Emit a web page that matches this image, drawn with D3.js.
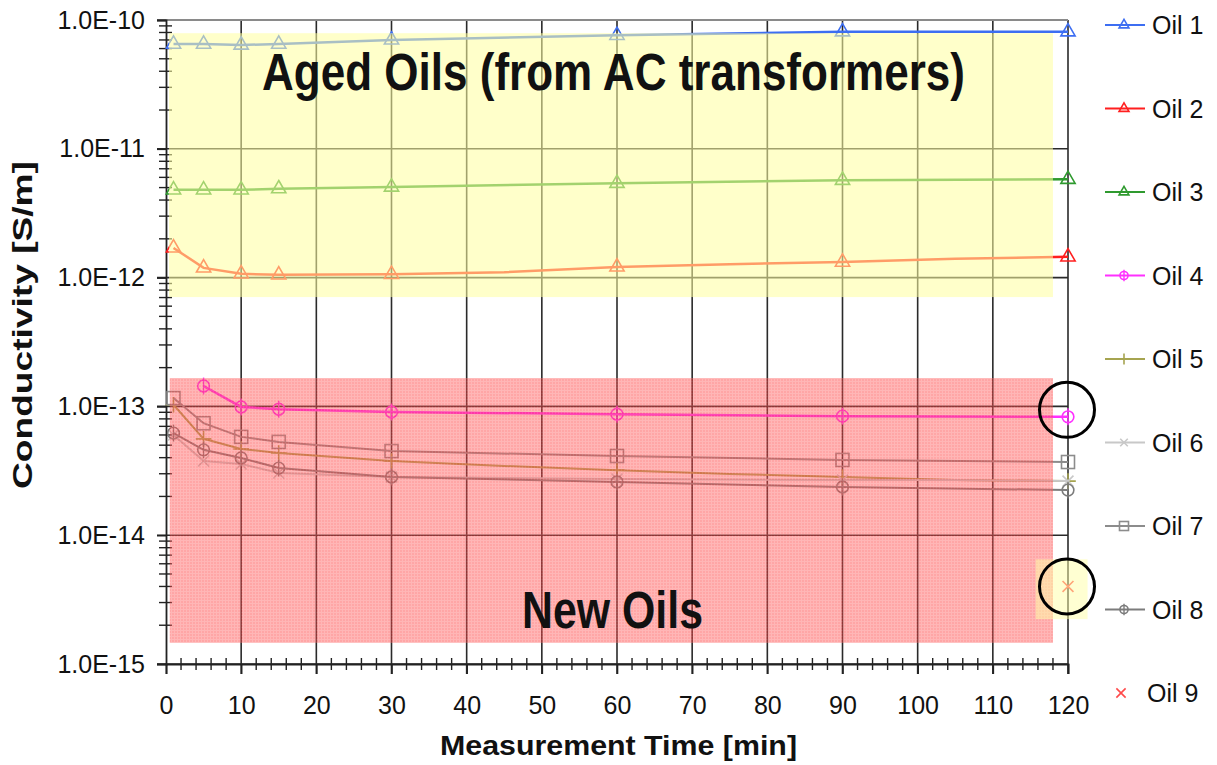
<!DOCTYPE html>
<html><head><meta charset="utf-8">
<script src="https://cdn.jsdelivr.net/npm/d3@7"></script>
<style>
body{margin:0;background:#fff}
svg{display:block}
text{font-family:"Liberation Sans",Arial,Helvetica,sans-serif;fill:#111}
</style>
</head><body>
<svg id="c" width="1217" height="765"></svg>
<script>
// ---------- data ----------
const seriesNames = ["Oil 1","Oil 2","Oil 3","Oil 4","Oil 5","Oil 6","Oil 7","Oil 8","Oil 9"];
const markerTimes = [1,5,10,15,30,60,90,120];

const oil1Times = [1,5,10,15,30,60,90,120];
const oil1Values = [6.5e-11,6.5e-11,6.4e-11,6.5e-11,7.0e-11,7.6e-11,8.1e-11,8.1e-11];

const oil2Times = [1,5,10,15,30,45,60,75,90,105,120];
const oil2Values = [1.70e-12,1.19e-12,1.07e-12,1.05e-12,1.06e-12,1.10e-12,1.21e-12,1.27e-12,1.32e-12,1.40e-12,1.45e-12];

const oil3Times = [1,5,10,15,30,60,90,120];
const oil3Values = [4.8e-12,4.8e-12,4.8e-12,4.9e-12,5.05e-12,5.4e-12,5.7e-12,5.8e-12];

const oil4Times = [5,10,15,30,60,90,120];
const oil4Values = [1.44e-13,9.9e-14,9.5e-14,9.05e-14,8.7e-14,8.4e-14,8.3e-14];

const oil5Times = [1,5,10,15,30,45,60,75,90,105,120];
const oil5Values = [1.03e-13,5.6e-14,4.67e-14,4.35e-14,3.77e-14,3.45e-14,3.2e-14,2.99e-14,2.83e-14,2.68e-14,2.63e-14];

const oil6Times = [1,5,10,15,30,60,90,105,120];
const oil6Values = [6.0e-14,3.77e-14,3.57e-14,3.04e-14,2.83e-14,2.73e-14,2.68e-14,2.68e-14,2.63e-14];

const oil7Times = [1,5,10,15,30,60,90,120];
const oil7Values = [1.16e-13,7.4e-14,5.8e-14,5.3e-14,4.5e-14,4.12e-14,3.84e-14,3.7e-14];

const oil8Times = [1,5,10,15,30,60,90,120];
const oil8Values = [6.2e-14,4.6e-14,3.98e-14,3.32e-14,2.83e-14,2.59e-14,2.37e-14,2.24e-14];

const oil9Times = [120];
const oil9Values = [4.0e-15];

const xTicks = [0,10,20,30,40,50,60,70,80,90,100,110,120];
const yTicks = [1e-15,1e-14,1e-13,1e-12,1e-11,1e-10];
const yTickLabels = ["1.0E-15","1.0E-14","1.0E-13","1.0E-12","1.0E-11","1.0E-10"];

const annotationAged = "Aged Oils (from AC transformers)";
const annotationNew = "New Oils";
const xTitle = "Measurement Time [min]";
const yTitle = "Conductivity [S/m]";

// ---------- styles ----------
const colors = ["#3d6ef2","#ff1f1f","#2f9a2f","#ff30ff","#a6a450","#c8c8c8","#8c8c8c","#7c7c7c","#ff4a4a"];
const shapes = ["tri","tri","tri","circ","plus","cross","square","circ","cross"];
const widths = [2.5,2.5,2.5,2.5,2,2,2,2,0];

const series = [
  [oil1Times,oil1Values],[oil2Times,oil2Values],[oil3Times,oil3Values],
  [oil4Times,oil4Values],[oil5Times,oil5Values],[oil6Times,oil6Values],
  [oil7Times,oil7Values],[oil8Times,oil8Values],[oil9Times,oil9Values]
].map((s,i)=>({name:seriesNames[i],pts:s[0].map((t,j)=>({t, v:s[1][j]})),color:colors[i],shape:shapes[i],width:widths[i]}));

const svg = d3.select("#c");
const x = d3.scaleLinear().domain([0,120]).range([166,1068]);
const y = d3.scaleLog().domain([1e-15,1e-10]).range([664,20]);

// pattern for the fine texture of the pink region
const defs = svg.append("defs");
const pat = defs.append("pattern").attr("id","tex").attr("width",3).attr("height",3).attr("patternUnits","userSpaceOnUse");
pat.append("rect").attr("width",3).attr("height",3).attr("fill","rgb(255,66,66)");
pat.append("path").attr("d","M0,0.5H3M0.5,0V3").attr("stroke","rgb(255,100,100)").attr("stroke-width",1);

// ---------- grid ----------
const grid = svg.append("g");
grid.selectAll("line.v").data(xTicks.slice(1)).enter().append("line")
  .attr("x1",d=>x(d)).attr("x2",d=>x(d)).attr("y1",y(1e-10)).attr("y2",y(1e-15)+10)
  .attr("stroke","#2a2a2a").attr("stroke-width",1.6);
grid.selectAll("line.h").data(yTicks).enter().append("line")
  .attr("x1",x(0)-9).attr("x2",x(120)).attr("y1",d=>y(d)).attr("y2",d=>y(d))
  .attr("stroke",d=>d===1e-10?"#8a8a8a":"#2a2a2a").attr("stroke-width",d=>d===1e-10?2:1.6);

// minor ticks y
const minorY = [];
for(let e=-15;e<-10;e++) for(let m=2;m<=9;m++) minorY.push(m*Math.pow(10,e));
grid.selectAll("line.my").data(minorY).enter().append("line")
  .attr("x1",x(0)-7).attr("x2",x(0)+6).attr("y1",d=>y(d)).attr("y2",d=>y(d))
  .attr("stroke","#222").attr("stroke-width",1.4);
// minor ticks x
const minorX = d3.range(2,120,2).filter(d=>d%10!==0);
grid.selectAll("line.mx").data(minorX).enter().append("line")
  .attr("x1",d=>x(d)).attr("x2",d=>x(d)).attr("y1",y(1e-15)-6).attr("y2",y(1e-15)+6)
  .attr("stroke","#222").attr("stroke-width",1.4);

// axes with d3 (labels)
const yAxis = d3.axisLeft(y).tickValues(yTicks).tickFormat((d,i)=>yTickLabels[i]).tickSize(9).tickPadding(12);
const gy = svg.append("g").attr("transform",`translate(${x(0)},0)`).call(yAxis);
gy.select(".domain").attr("stroke","#222").attr("stroke-width",1.8);
gy.selectAll(".tick line").attr("stroke","#222").attr("stroke-width",1.6);
gy.selectAll("text").style("font-size","25px").attr("fill","#111");

const xAxis = d3.axisBottom(x).tickValues(xTicks).tickSize(10).tickPadding(22);
const gx = svg.append("g").attr("transform",`translate(0,${y(1e-15)})`).call(xAxis);
gx.select(".domain").attr("stroke","#222").attr("stroke-width",1.8);
gx.selectAll(".tick line").attr("stroke","#222").attr("stroke-width",1.6);
gx.selectAll("text").style("font-size","25px").attr("fill","#111");

// ---------- series ----------
function marker(sel, shape, color, s){
  const g = sel;
  if(shape==="tri"){
    g.append("path").attr("d",d3.symbol(d3.symbolTriangle, 0.52*s*s)()).attr("fill","none").attr("stroke",color).attr("stroke-width",1.6);
  } else if(shape==="circ"){
    g.append("circle").attr("r",s*0.45).attr("fill","none").attr("stroke",color).attr("stroke-width",1.6);
    g.append("line").attr("y1",-s*0.65).attr("y2",s*0.65).attr("stroke",color).attr("stroke-width",1.4);
  } else if(shape==="square"){
    g.append("rect").attr("x",-s/2).attr("y",-s/2).attr("width",s).attr("height",s).attr("fill","none").attr("stroke",color).attr("stroke-width",1.6);
  } else if(shape==="plus"){
    g.append("path").attr("d",`M${-s*0.6},0H${s*0.6}M0,${-s*0.6}V${s*0.6}`).attr("stroke",color).attr("stroke-width",1.6);
  } else if(shape==="cross"){
    g.append("path").attr("d",`M${-s*0.42},${-s*0.42}L${s*0.42},${s*0.42}M${-s*0.42},${s*0.42}L${s*0.42},${-s*0.42}`).attr("stroke",color).attr("stroke-width",1.6);
  }
}
const line = d3.line().x(d=>x(d.t)).y(d=>y(d.v));
const plot = svg.append("g");
series.forEach(s=>{
  if(s.pts.length>1){
    plot.append("path").datum(s.pts).attr("d",line).attr("fill","none")
      .attr("stroke",s.color).attr("stroke-width",s.width);
  }
  s.pts.filter(p=>markerTimes.includes(p.t)).forEach(p=>{
    const g = plot.append("g").attr("transform",`translate(${x(p.t)},${y(p.v)})`);
    marker(g, s.shape, s.color, 13);
  });
});

// ---------- highlight regions (semi-transparent overlays) ----------
const ov = svg.append("g");
ov.append("rect").attr("x",x(0.4)).attr("width",x(118)-x(0.4))
  .attr("y",y(7.9e-11)).attr("height",y(7.06e-13)-y(7.9e-11))
  .attr("fill","rgb(255,255,160)").attr("opacity",0.56);
ov.append("rect").attr("x",x(0.5)).attr("width",x(118)-x(0.5))
  .attr("y",y(1.66e-13)).attr("height",y(1.46e-15)-y(1.66e-13))
  .attr("fill","url(#tex)").attr("opacity",0.47);
ov.append("rect").attr("x",x(115.7)).attr("width",x(122.6)-x(115.7))
  .attr("y",y(6.5e-15)).attr("height",y(2.23e-15)-y(6.5e-15))
  .attr("fill","rgb(255,255,165)").attr("opacity",0.5);

// circles
[[120,9.4e-14],[120,4.0e-15]].forEach(c=>{
  svg.append("circle").attr("cx",x(c[0])-1).attr("cy",y(c[1])).attr("r",27.5)
    .attr("fill","none").attr("stroke","#000").attr("stroke-width",3);
});

// annotation texts
const annFont = "'Liberation Sans Narrow','Arial Narrow','Liberation Sans',sans-serif";
svg.append("text").attr("x",262).attr("y",90).text(annotationAged)
  .attr("textLength",703).attr("lengthAdjust","spacingAndGlyphs")
  .style("font-family",annFont).style("font-weight","bold")
  .style("font-size","51px").attr("fill","#000");
svg.append("text").attr("x",522).attr("y",628).text(annotationNew)
  .attr("textLength",181).attr("lengthAdjust","spacingAndGlyphs")
  .style("font-family",annFont).style("font-weight","bold")
  .style("font-size","51px").attr("fill","#000");

// axis titles
svg.append("text").attr("x",440).attr("y",755)
  .attr("textLength",357).attr("lengthAdjust","spacingAndGlyphs")
  .style("font-size","27px").style("font-weight","bold").text(xTitle);
svg.append("text").attr("transform","translate(32,489) rotate(-90)")
  .attr("textLength",328).attr("lengthAdjust","spacingAndGlyphs")
  .style("font-size","27px").style("font-weight","bold").text(yTitle);

// ---------- legend ----------
const leg = svg.append("g");
series.forEach((s,i)=>{
  const ly = 25 + i*83.5;
  const g = leg.append("g").attr("transform",`translate(0,${ly})`);
  if(s.width>0){
    g.append("line").attr("x1",1105).attr("x2",1145).attr("y1",0).attr("y2",0).attr("stroke",s.color).attr("stroke-width",2);
    marker(g.append("g").attr("transform","translate(1124,0)"), s.shape, s.color, 9);
    g.append("text").attr("x",1152).attr("y",0).attr("dy","0.36em").style("font-size","25px").text(s.name);
  } else {
    marker(g.append("g").attr("transform","translate(1121,0)"), s.shape, s.color, 11);
    g.append("text").attr("x",1147).attr("y",0).attr("dy","0.36em").style("font-size","25px").text(s.name);
  }
});
</script>
</body></html>
